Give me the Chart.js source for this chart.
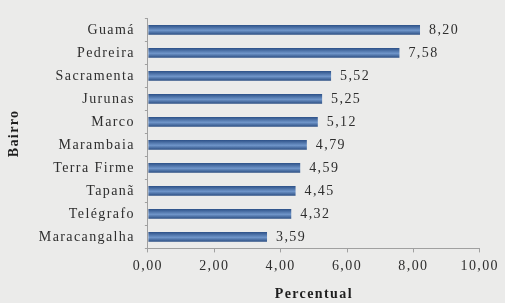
<!DOCTYPE html>
<html>
<head>
<meta charset="utf-8">
<script src="https://cdn.jsdelivr.net/npm/chart.js@4"></script>
<style>
  html, body { margin: 0; padding: 0; background: #ebebea; }
  #wrap { width: 505px; height: 303px; }
</style>
</head>
<body>
<div id="wrap"><canvas id="bairroChart"></canvas></div>
<script>
const bairros = ["Guamá", "Pedreira", "Sacramenta", "Jurunas", "Marco",
                 "Marambaia", "Terra Firme", "Tapanã", "Telégrafo", "Maracangalha"];
const percentual = [8.20, 7.58, 5.52, 5.25, 5.12, 4.79, 4.59, 4.45, 4.32, 3.59];
const xTicks = [0, 2, 4, 6, 8, 10];

const fmt = v => v.toFixed(2).replace(".", ",");
const FONT = "'Liberation Serif', 'DejaVu Serif', serif";

// the original text is set wide, so space the letters out a bit
const wideText = {
  id: "wideText",
  beforeUpdate(chart) { chart.ctx.letterSpacing = "1.4px"; },
  beforeDraw(chart) { chart.ctx.letterSpacing = "1.4px"; }
};

// value labels at the end of each bar
const valueLabels = {
  id: "valueLabels",
  afterDatasetsDraw(chart) {
    const ctx = chart.ctx;
    const meta = chart.getDatasetMeta(0);
    ctx.save();
    ctx.font = "14px " + FONT;
    ctx.fillStyle = "#2e2e2e";
    ctx.textBaseline = "middle";
    meta.data.forEach((bar, i) => {
      ctx.fillText(fmt(percentual[i]), bar.x + 9, bar.y);
    });
    ctx.restore();
  }
};

function barGradient(context) {
  const chart = context.chart;
  const y = chart.scales.y;
  const cy = y ? y.getPixelForValue(context.dataIndex) : NaN;
  if (!isFinite(cy)) return "#3a64a0";
  const h = 5;
  const g = chart.ctx.createLinearGradient(0, cy - h, 0, cy + h);
  g.addColorStop(0, "#2b4f86");
  g.addColorStop(0.55, "#6f95c9");
  g.addColorStop(1, "#2a4c80");
  return g;
}

const chart = new Chart(document.getElementById("bairroChart"), {
  type: "bar",
  data: {
    labels: bairros,
    datasets: [{
      label: "Percentual",
      data: percentual,
      backgroundColor: barGradient,
      borderWidth: 0,
      categoryPercentage: 1,
      barPercentage: 0.42
    }]
  },
  plugins: [wideText, valueLabels],
  options: {
    indexAxis: "y",
    responsive: true,
    maintainAspectRatio: false,
    animation: false,
    layout: { padding: { left: 6, right: -2, top: 12, bottom: 0 } },
    plugins: {
      legend: { display: false },
      tooltip: { enabled: false }
    },
    scales: {
      x: {
        min: 0,
        max: 10,
        afterBuildTicks: axis => { axis.ticks = xTicks.map(v => ({ value: v })); },
        grid: { drawOnChartArea: false, drawTicks: true, tickLength: 4, color: "#a0a0a0" },
        border: { display: true, color: "#a0a0a0" },
        ticks: {
          color: "#2e2e2e",
          font: { family: FONT, size: 14 },
          padding: 6,
          callback: v => fmt(v)
        },
        title: {
          display: true,
          text: "Percentual",
          color: "#1e1e1e",
          font: { family: FONT, size: 14, weight: "bold" },
          padding: { top: 5, bottom: 0 }
        }
      },
      y: {
        grid: { drawOnChartArea: false, drawTicks: true, tickLength: 3, offset: true, color: "#a0a0a0" },
        border: { display: true, color: "#a0a0a0" },
        ticks: {
          color: "#2e2e2e",
          font: { family: FONT, size: 14 },
          padding: 10,
          autoSkip: false
        },
        title: {
          display: true,
          text: "Bairro",
          color: "#1e1e1e",
          font: { family: FONT, size: 14, weight: "bold" },
          padding: { top: 0, bottom: 6 }
        }
      }
    }
  }
});
chart.update();
</script>
</body>
</html>
